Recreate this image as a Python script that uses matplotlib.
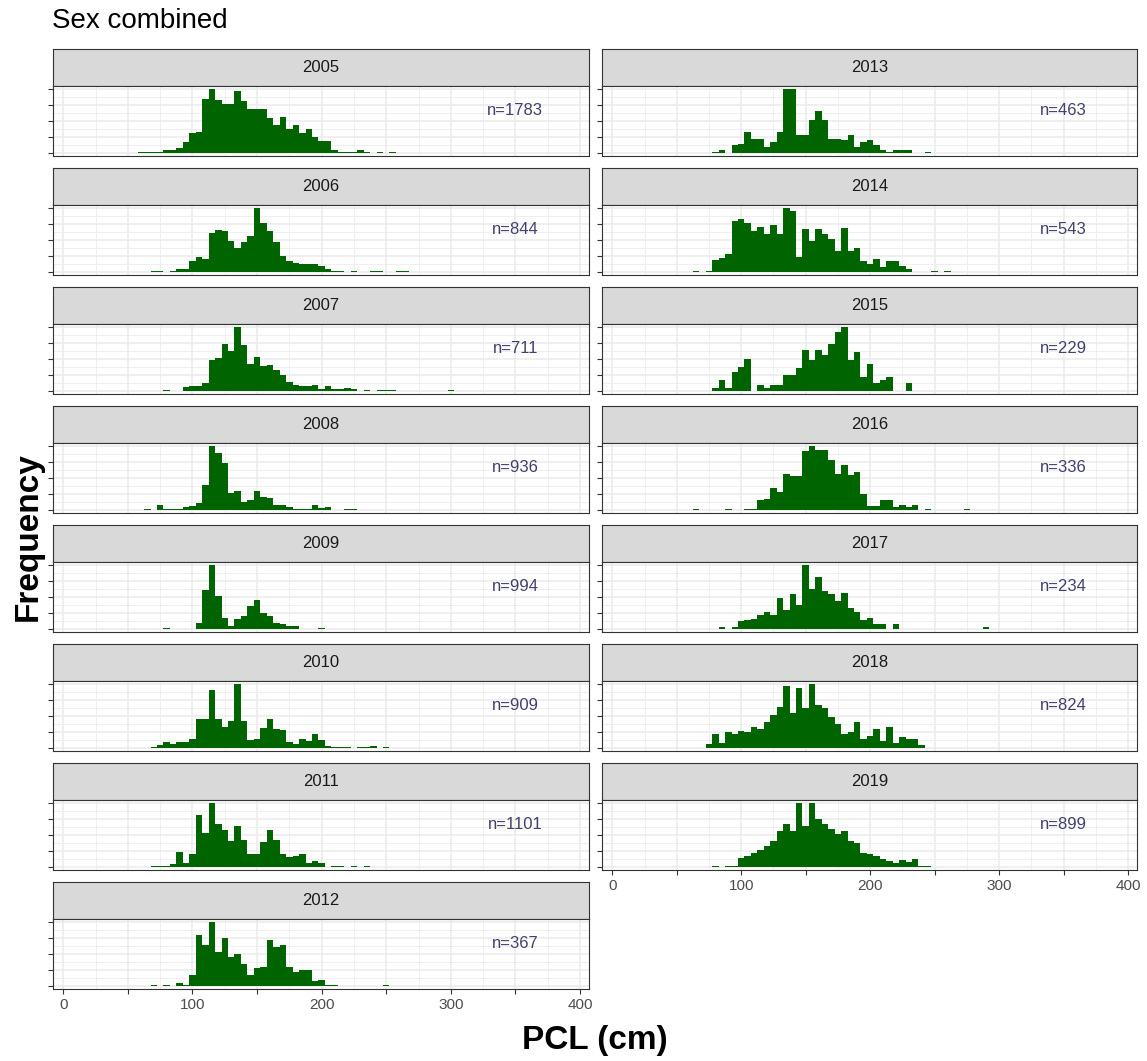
import numpy as np
import matplotlib
matplotlib.use("Agg")
import matplotlib.pyplot as plt

plt.rcParams["font.family"] = ["Liberation Sans", "DejaVu Sans"]

# bar heights per 5 cm bin, read off each facet (y axis is unlabelled, so the
# unit is relative); lo_xxxx is the centre of the first bin
lo2005 = 60
c2005 = [2, 2, 2, 2, 7, 7, 13, 32, 57, 61, 157, 187, 154, 144, 144, 182, 151, 129, 129, 129,
         101, 81, 104, 69, 81, 57, 71, 47, 34, 34, 9, 3, 3, 3, 9, 3, 0, 2, 0, 2]
lo2006 = 70
c2006 = [2, 2, 0, 2, 8, 8, 32, 42, 37, 113, 123, 119, 90, 71, 86, 106, 186, 144, 120, 86,
         46, 31, 27, 23, 23, 23, 18, 8, 2, 2, 0, 2, 0, 0, 2, 2, 0, 0, 2, 2]
lo2007 = 80
c2007 = [2, 0, 0, 10, 14, 14, 23, 92, 95, 139, 117, 187, 134, 80, 100, 72, 75, 62, 46, 27,
         18, 14, 14, 18, 4, 13, 4, 4, 8, 4, 0, 2, 0, 2, 2, 2, 0, 0, 0, 0, 0, 0, 0, 0, 2]
lo2008 = 65
c2008 = [2, 0, 14, 3, 3, 3, 8, 12, 19, 72, 184, 164, 134, 49, 53, 24, 28, 53, 38, 33,
         14, 14, 8, 3, 3, 3, 14, 5, 8, 0, 0, 2, 2]
lo2009 = 80
c2009 = [2, 0, 0, 0, 0, 17, 115, 187, 95, 32, 8, 29, 37, 67, 85, 47, 37, 18, 13, 7,
         7, 0, 0, 0, 2]
lo2010 = 70
c2010 = [2, 7, 16, 12, 16, 16, 27, 83, 83, 167, 83, 60, 79, 185, 79, 23, 27, 59, 83, 56,
         52, 16, 11, 26, 21, 40, 23, 6, 2, 2, 2, 0, 2, 2, 6, 0, 2]
lo2011 = 70
c2011 = [2, 2, 2, 7, 41, 12, 37, 147, 98, 182, 122, 104, 73, 118, 78, 36, 36, 70, 104, 78,
         38, 27, 30, 38, 12, 16, 10, 0, 3, 3, 0, 3, 0, 3]
lo2012 = 70
c2012 = [2, 0, 2, 0, 8, 2, 31, 150, 120, 188, 100, 140, 86, 95, 65, 32, 52, 57, 135, 115,
         120, 55, 42, 48, 48, 13, 18, 3, 3, 0, 0, 0, 0, 0, 0, 0, 3]
lo2013 = 80
c2013 = [2, 8, 0, 23, 27, 61, 42, 42, 18, 32, 61, 187, 187, 51, 51, 96, 124, 96, 42, 42,
         39, 51, 17, 32, 39, 24, 9, 3, 9, 9, 9, 0, 0, 3]
lo2014 = 65
c2014 = [2, 0, 2, 36, 41, 51, 148, 153, 143, 120, 130, 110, 138, 110, 186, 178, 43, 124, 90, 124,
         110, 96, 61, 128, 61, 71, 32, 23, 37, 13, 32, 32, 18, 8, 0, 0, 0, 2, 0, 2]
lo2015 = 80
c2015 = [7, 32, 9, 55, 71, 94, 0, 17, 9, 17, 17, 46, 46, 66, 119, 92, 119, 104, 137, 172,
         187, 92, 114, 42, 80, 22, 32, 42, 0, 0, 22]
lo2016 = 65
c2016 = [2, 0, 0, 0, 0, 2, 0, 0, 3, 3, 27, 32, 62, 52, 105, 99, 97, 169, 184, 174,
         174, 144, 105, 130, 102, 110, 47, 12, 10, 27, 27, 7, 14, 7, 14, 0, 2, 0, 0, 0,
         0, 0, 2]
lo2017 = 85
c2017 = [5, 0, 5, 22, 25, 28, 40, 50, 40, 90, 55, 100, 70, 185, 115, 150, 110, 100, 80, 105,
         60, 50, 25, 30, 15, 15, 0, 15, 0, 0, 0, 0, 0, 0, 0, 0, 0, 0, 0, 0, 0, 5]
lo2018 = 75
c2018 = [10, 40, 15, 45, 40, 50, 45, 60, 55, 75, 95, 120, 180, 100, 175, 115, 185, 125, 115, 90,
         70, 40, 45, 75, 25, 35, 55, 20, 60, 15, 30, 25, 25, 8]
lo2019 = 80
c2019 = [3, 0, 3, 3, 25, 30, 40, 50, 60, 75, 105, 125, 105, 185, 120, 185, 140, 125, 110, 95,
         105, 75, 70, 40, 38, 30, 22, 18, 12, 20, 15, 22, 3, 3]

years = list(range(2005, 2020))
n_obs = [1783, 844, 711, 936, 994, 909, 1101, 367, 463, 543, 229, 336, 234, 824, 899]
x_labels = ["0", "", "100", "", "200", "", "300", "", "400"]

hists = {
    2005: (lo2005, c2005), 2006: (lo2006, c2006), 2007: (lo2007, c2007),
    2008: (lo2008, c2008), 2009: (lo2009, c2009), 2010: (lo2010, c2010),
    2011: (lo2011, c2011), 2012: (lo2012, c2012), 2013: (lo2013, c2013),
    2014: (lo2014, c2014), 2015: (lo2015, c2015), 2016: (lo2016, c2016),
    2017: (lo2017, c2017), 2018: (lo2018, c2018), 2019: (lo2019, c2019),
}

W, H = 1147, 1061
fig = plt.figure(figsize=(W / 100, H / 100), dpi=100)


def rect(x, top, w, h):
    return [x / W, 1 - (top + h) / H, w / W, h / H]


COL_X = [(53, 536), (602, 535)]
PANEL_TOP0, ROW_STEP, PANEL_H, STRIP_H = 86, 119, 70, 37
EDGE = "#333333"

for i, yr in enumerate(years):
    col, row = (0, i) if i < 8 else (1, i - 8)
    x0, w = COL_X[col]
    top = PANEL_TOP0 + ROW_STEP * row
    bottom_panel = (yr == 2012) or (yr == 2019)

    # strip
    sax = fig.add_axes(rect(x0, top - STRIP_H, w, STRIP_H))
    sax.set_facecolor("#D9D9D9")
    sax.set_xticks([])
    sax.set_yticks([])
    for s in sax.spines.values():
        s.set_color(EDGE)
        s.set_linewidth(0.8)
    sax.text(0.5, 0.5, str(yr), transform=sax.transAxes, ha="center", va="center",
             fontsize=12, color="#1A1A1A")

    # panel
    ax = fig.add_axes(rect(x0, top, w, PANEL_H))
    lo, counts = hists[yr]
    centers = lo + 5 * np.arange(len(counts))
    ax.bar(centers, counts, width=5, color="#006400", linewidth=0)
    m = max(counts)
    ax.set_xlim(-8, 407)
    ax.set_ylim(-0.05 * m, 1.05 * m)
    major = np.linspace(0, m, 5)
    ax.set_yticks(major)
    ax.set_yticks((major[:-1] + major[1:]) / 2, minor=True)
    ax.set_xticks(np.arange(0, 401, 50))
    ax.set_xticks(np.arange(25, 400, 50), minor=True)
    ax.set_axisbelow(True)
    ax.grid(which="major", color="#EBEBEB", lw=1.1)
    ax.grid(which="minor", color="#EBEBEB", lw=0.55)
    ax.tick_params(axis="y", which="major", left=True, labelleft=False,
                   length=3.5, width=0.8, color=EDGE)
    ax.tick_params(axis="both", which="minor", left=False, bottom=False)
    if bottom_panel:
        ax.set_xticklabels(x_labels)
        ax.tick_params(axis="x", which="major", bottom=True, length=3.5, width=0.8,
                       color=EDGE, labelsize=11, labelcolor="#4D4D4D", pad=3)
    else:
        ax.tick_params(axis="x", which="major", bottom=False, labelbottom=False)
    for s in ax.spines.values():
        s.set_color(EDGE)
        s.set_linewidth(0.8)
    ax.text(350, 0.65, f"n={n_obs[i]}", transform=ax.get_xaxis_transform(),
            ha="center", va="center", fontsize=12, color="#41416E")

fig.text(52 / W, 1 - 21 / H, "Sex combined", ha="left", va="center", fontsize=20)
fig.text(28 / W, 1 - 537 / H, "Frequency", rotation=90, ha="center", va="center",
         fontsize=24, fontweight="bold")
fig.text(595 / W, 1 - 1040 / H, "PCL (cm)", ha="center", va="center",
         fontsize=24, fontweight="bold")

fig.savefig("out.png", dpi=100)
